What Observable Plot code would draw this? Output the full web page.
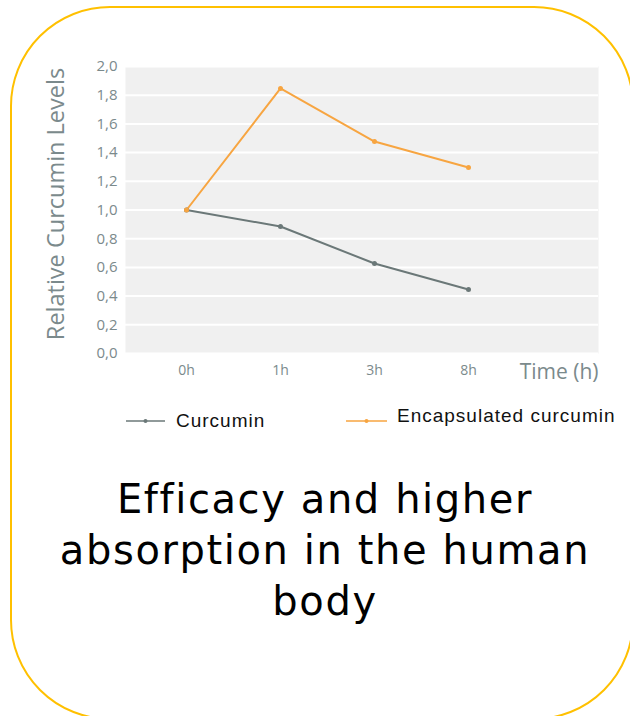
<!DOCTYPE html>
<html>
<head>
<meta charset="utf-8">
<script src="https://cdn.jsdelivr.net/npm/d3@7"></script>
<script src="https://cdn.jsdelivr.net/npm/@observablehq/plot@0.6"></script>
<style>
  html, body { margin: 0; padding: 0; background: #fff; }
  #page { position: relative; width: 630px; height: 716px; overflow: hidden; background: #fff; }
  #border { position: absolute; left: 10px; top: 6px; width: 620px; height: 710px;
            border: 2px solid #FFC000; border-radius: 100px; box-sizing: content-box; }
  #chart { position: absolute; left: 0; top: 0; }
  .lg { position: absolute; font-family: "Liberation Sans", Arial, sans-serif;
        font-size: 19px; letter-spacing: 1px; color: #111; line-height: 20px; white-space: nowrap; }
  .sw { position: absolute; }
  #caption { position: absolute; left: 10px; width: 630px; top: 474px; text-align: center;
             font-family: "DejaVu Sans", sans-serif; font-size: 40px; letter-spacing: 1.6px;
             line-height: 51px; color: #000; }
</style>
</head>
<body>
<div id="page">
  <div id="border"></div>
  <div id="chart"></div>
  <svg class="sw" style="left:126px; top:416px;" width="40" height="10"><line x1="0" y1="5" x2="39" y2="5" stroke="#6b7878" stroke-width="1.5"/><circle cx="19.5" cy="5" r="2" fill="#6b7878"/></svg>
  <div class="lg" style="left:176px; top:411px;">Curcumin</div>
  <svg class="sw" style="left:346px; top:416px;" width="42" height="10"><line x1="0" y1="5" x2="41" y2="5" stroke="#f7a541" stroke-width="1.5"/><circle cx="20.5" cy="5" r="2" fill="#f7a541"/></svg>
  <div class="lg" style="left:397px; top:406px;">Encapsulated curcumin</div>
  <div id="caption">Efficacy and higher<br>absorption in the human<br>body</div>
</div>
<script>
const times = ["0h", "1h", "3h", "8h"];
const curcumin = [1.0, 0.885, 0.627, 0.446];
const encapsulated = [1.0, 1.847, 1.477, 1.296];
const yTicks = [0, 0.2, 0.4, 0.6, 0.8, 1.0, 1.2, 1.4, 1.6, 1.8, 2.0];
const seriesNames = ["Curcumin", "Encapsulated curcumin"];
const seriesColors = ["#6b7878", "#f7a541"];
const yLabel = "Relative Curcumin Levels";
const xLabel = "Time (h)";

const data = [];
times.forEach((t, i) => {
  data.push({time: t, value: curcumin[i], series: seriesNames[0]});
  data.push({time: t, value: encapsulated[i], series: seriesNames[1]});
});

const gray = "#7b8a8c";
const chart = Plot.plot({
  width: 630,
  height: 390,
  marginTop: 66,
  marginBottom: 37,
  marginLeft: 125,
  marginRight: 32,
  style: {fontFamily: "'Open Sans', sans-serif", background: "transparent"},
  x: {type: "point", domain: times, range: [185, 469], padding: 0},
  y: {domain: [0, 2], ticks: yTicks},
  color: {domain: seriesNames, range: seriesColors},
  marks: [
    Plot.frame({fill: "#f0f0f0", stroke: null}),
    Plot.gridY(yTicks, {stroke: "#ffffff", strokeOpacity: 1, strokeWidth: 2}),
    Plot.axisY(yTicks, {tickSize: 0, tickPadding: 8, fontSize: 15, fill: gray, label: null,
      tickFormat: d => d.toFixed(1).replace(".", ",")}),
    Plot.axisX({tickSize: 0, tickPadding: 12, fontSize: 14, fill: gray, label: null}),
    Plot.text([yLabel], {frameAnchor: "left", rotate: -90, dx: -69, dy: -6, fontSize: 23.5, fill: gray, textAnchor: "middle"}),
    Plot.text([xLabel], {frameAnchor: "bottom-right", dy: 25, fontSize: 21, fill: gray, textAnchor: "end"}),
    Plot.line(data, {x: "time", y: "value", z: "series", stroke: "series", strokeWidth: 2}),
    Plot.dot(data, {x: "time", y: "value", fill: "series", r: 2.5})
  ]
});
document.getElementById("chart").appendChild(chart);
</script>
</body>
</html>
